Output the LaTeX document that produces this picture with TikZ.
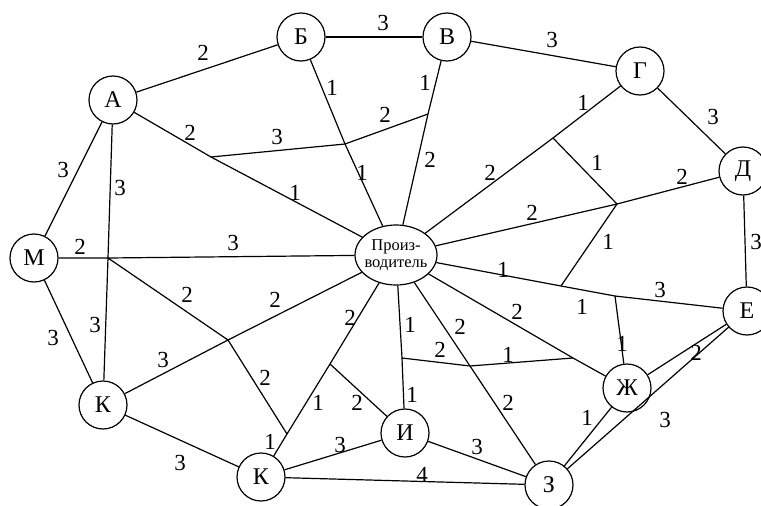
\documentclass[tikz,border=0pt]{standalone}
\usepackage{fontspec}
\setmainfont{Liberation Serif}
\newfontfamily\lblfont{Liberation Serif}[Scale=2.3]
\newfontfamily\vtxfont{Liberation Serif}[Scale=2.4]
\newfontfamily\prodfont{Liberation Serif}[Scale=1.65]
\usetikzlibrary{shapes.geometric}
\begin{document}
\begin{tikzpicture}[x=1pt,y=-1pt,
  vtx/.style={draw, circle, fill=white, minimum size=48pt, inner sep=0pt, line width=1.2pt, font=\vtxfont},
  prod/.style={draw, ellipse, fill=white, minimum width=82pt, minimum height=60pt, inner xsep=-10pt, inner ysep=-5pt, line width=1.2pt, align=center, font={\linespread{1.4}\prodfont\selectfont}},
  lbl/.style={font=\lblfont, inner sep=0pt},
  con/.style={line width=1.2pt}]
\useasboundingbox (0,0) rectangle (761,506);
\clip (0,0) rectangle (761,506);
% vertices
\node[vtx] (A) at (113,100) {А};
\node[vtx] (B) at (301,37) {Б};
\node[vtx] (V) at (447,37) {В};
\node[vtx] (G) at (640,71) {Г};
\node[vtx] (D) at (743,171) {Д};
\node[vtx] (E) at (747,311) {Е};
\node[vtx] (M) at (34,258) {М};
\node[vtx] (KL) at (103,405) {К};
\node[vtx] (KB) at (261,477) {К};
\node[vtx] (I) at (405,433) {И};
\node[vtx] (Z) at (549,485) {З};
\node[vtx] (ZH) at (627,388) {Ж};
\node[prod] (P) at (396,255) {Произ-\\водитель};
% junctions
\coordinate (J1) at (108,258);
\coordinate (J2) at (228,340);
\coordinate (J3) at (287,434);
\coordinate (J4) at (330,364);
\coordinate (J5) at (211,157);
\coordinate (J6) at (345,144);
\coordinate (J7) at (428,114);
\coordinate (J8) at (553,138);
\coordinate (J9) at (617,204);
\coordinate (J10) at (561,286);
\coordinate (J11) at (615,296);
\coordinate (J12) at (402,358);
\coordinate (J13) at (573,358);
\coordinate (J14) at (470,366);
% connectors
\draw[con] (A) -- (B);
\draw[con] (B) -- (V);
\draw[con] (V) -- (G);
\draw[con] (G) -- (D);
\draw[con] (D) -- (E);
\draw[con] (M) -- (A);
\draw[con] (M) -- (KL);
\draw[con] (KL) -- (KB);
\draw[con] (KB) -- (I);
\draw[con] (KB) -- (Z);
\draw[con] (I) -- (Z);
\draw[con] (Z) -- (ZH);
\draw[con] (Z) -- (E);
\draw[con] (ZH) -- (E);
\draw[con] (A) -- (J1) -- (KL);
\draw[con] (M) -- (J1) -- (P);
\draw[con] (J1) -- (J2) -- (J3);
\draw[con] (KL) -- (J2) -- (P);
\draw[con] (KB) -- (J3) -- (J4) -- (P);
\draw[con] (J4) -- (I);
\draw[con] (A) -- (J5) -- (P);
\draw[con] (J5) -- (J6) -- (J7);
\draw[con] (B) -- (J6) -- (P);
\draw[con] (V) -- (J7) -- (P);
\draw[con] (G) -- (J8) -- (P);
\draw[con] (J8) -- (J9) -- (J10);
\draw[con] (D) -- (J9) -- (P);
\draw[con] (P) -- (J10) -- (J11) -- (E);
\draw[con] (J11) -- (ZH);
\draw[con] (P) -- (J13) -- (ZH);
\draw[con] (P) -- (J12) -- (I);
\draw[con] (J12) -- (J14) -- (J13);
\draw[con] (P) -- (J14) -- (Z);
% labels
\node[lbl] (l1) at (203,53) {2};
\node[lbl] (l2) at (383,23) {3};
\node[lbl] (l3) at (552,40) {3};
\node[lbl] (l4) at (713,117) {3};
\node[lbl] (l5) at (756,242) {3};
\node[lbl] (l6) at (583,103) {1};
\node[lbl] (l7) at (597,163) {1};
\node[lbl] (l8) at (682,177) {2};
\node[lbl] (l9) at (532,213) {2};
\node[lbl] (l10) at (608,242) {1};
\node[lbl] (l11) at (503,270) {1};
\node[lbl] (l12) at (622,344) {1};
\node[lbl] (l13) at (696,353) {2};
\node[lbl] (l14) at (665,420) {3};
\node[lbl] (l15) at (587,418) {1};
\node[lbl] (l16) at (508,403) {2};
\node[lbl] (l17) at (190,133) {2};
\node[lbl] (l18) at (295,193) {1};
\node[lbl] (l19) at (277,137) {3};
\node[lbl] (l20) at (385,115) {2};
\node[lbl] (l21) at (332,88) {1};
\node[lbl] (l22) at (362,173) {1};
\node[lbl] (l23) at (425,83) {1};
\node[lbl] (l24) at (430,160) {2};
\node[lbl] (l25) at (490,173) {2};
\node[lbl] (l26) at (63,170) {3};
\node[lbl] (l27) at (120,188) {3};
\node[lbl] (l28) at (80,247) {2};
\node[lbl] (l29) at (233,243) {3};
\node[lbl] (l30) at (187,295) {2};
\node[lbl] (l31) at (95,325) {3};
\node[lbl] (l32) at (53,338) {3};
\node[lbl] (l33) at (163,360) {3};
\node[lbl] (l34) at (180,463) {3};
\node[lbl] (l35) at (275,300) {2};
\node[lbl] (l36) at (265,378) {2};
\node[lbl] (l37) at (350,318) {2};
\node[lbl] (l38) at (318,403) {1};
\node[lbl] (l39) at (270,442) {1};
\node[lbl] (l40) at (357,403) {2};
\node[lbl] (l41) at (410,325) {1};
\node[lbl] (l42) at (412,395) {1};
\node[lbl] (l43) at (440,350) {2};
\node[lbl] (l44) at (508,355) {1};
\node[lbl] (l45) at (460,327) {2};
\node[lbl] (l46) at (517,312) {2};
\node[lbl] (l47) at (582,307) {1};
\node[lbl] (l48) at (660,290) {3};
\node[lbl] (l49) at (477,447) {3};
\node[lbl] (l50) at (340,445) {3};
\node[lbl] (l51) at (422,475) {4};
\end{tikzpicture}
\end{document}
